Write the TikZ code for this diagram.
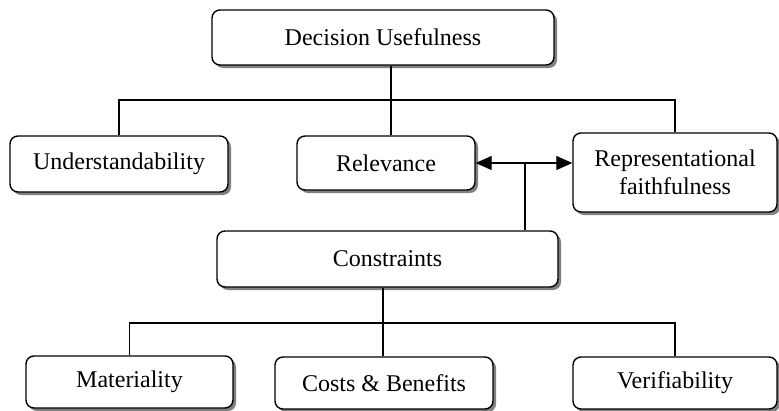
\documentclass[tikz,border=0pt]{standalone}
\usepackage{fontspec}
\setmainfont{Liberation Serif}
\usetikzlibrary{arrows.meta,shadows}

\begin{document}
\begin{tikzpicture}[x=1pt,y=-1pt,
  box/.style={draw,line width=1.4pt,rounded corners=8pt,fill=white,
    align=center,inner sep=0pt,font=\fontsize{24}{27.5}\selectfont,
    drop shadow={shadow xshift=3pt,shadow yshift=-3pt,fill=black!50,opacity=1}},
  link/.style={line width=1.2pt},
  >={Triangle[length=16pt,width=14pt]}]

 \useasboundingbox (0,0) rectangle (779,410);

% Top level
 \node[box,minimum width=342pt,minimum height=55pt] (dec) at (383,37.5) {Decision Usefulness};

% Qualities
 \node[box,minimum width=218pt,minimum height=56pt] (und) at (119,164) {Understandability};
 \node[box,minimum width=178pt,minimum height=54pt] (rel) at (386,163) {Relevance};
 \node[box,minimum width=204pt,minimum height=79pt] (rep) at (675,172.5) {Representational\\faithfulness};

% Constraints and the three below it
 \node[box,minimum width=341pt,minimum height=56pt] (con) at (387.5,259) {Constraints};
 \node[box,minimum width=207pt,minimum height=52pt] (mat) at (129.5,382) {Materiality};
 \node[box,minimum width=218pt,minimum height=52pt] (cos) at (384,383) {Costs \& Benefits};
 \node[box,minimum width=204pt,minimum height=52pt] (ver) at (675,383) {Verifiability};

 \coordinate (split) at (391,100); % upper fork
 \coordinate (mid) at (525,163);   % foot of the double arrow
 \coordinate (fork) at (383,323);  % lower fork

% Upper tree
 \draw[link] (split |- dec.south) -- (split |- rel.north);
 \draw[link] (und.north) |- (rep.north |- split) -- (rep.north);

% Relevance <-> faithfulness, joined to the constraints
 \draw[link,<->] (rel.east) -- (rel.east -| rep.west);
 \draw[link] (mid) -- (mid |- con.north);

% Lower tree
 \draw[link] (fork |- con.south) -- (fork |- cos.north);
 \draw[link] (mat.north) |- (ver.north |- fork) -- (ver.north);

\end{tikzpicture}
\end{document}
